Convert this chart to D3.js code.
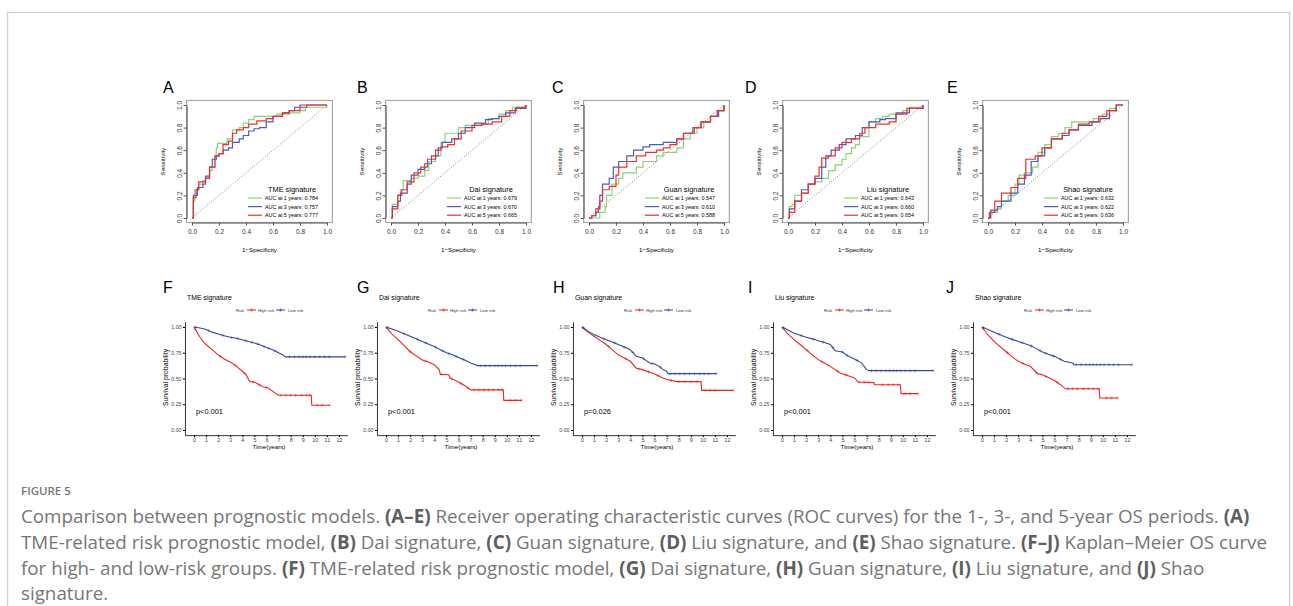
<!DOCTYPE html>
<html>
<head>
<meta charset="utf-8">
<script src="https://cdn.jsdelivr.net/npm/d3@7"></script>
<style>
  body { margin: 0; background: #fff; }
  svg { display: block; }
</style>
</head>
<body>
<div id="fig"></div>
<script>
// ---------- ROC data (1 - specificity, sensitivity) ----------
const rocLetters = ["A", "B", "C", "D", "E"];
const rocTitles = ["TME signature", "Dai signature", "Guan signature", "Liu signature", "Shao signature"];
const rocYears = [1, 3, 5];
const rocAuc = [
  [0.784, 0.757, 0.777],
  [0.679, 0.670, 0.665],
  [0.547, 0.610, 0.588],
  [0.643, 0.660, 0.654],
  [0.632, 0.622, 0.636]
];
const rocTicks = [0, 0.2, 0.4, 0.6, 0.8, 1.0];

const rocA1 = [[0,0],[0.01,0.15],[0.02,0.25],[0.05,0.3],[0.08,0.33],[0.1,0.36],[0.13,0.42],[0.15,0.45],[0.17,0.55],[0.18,0.62],[0.19,0.66],[0.24,0.66],[0.26,0.7],[0.3,0.78],[0.35,0.8],[0.38,0.84],[0.42,0.87],[0.46,0.9],[0.6,0.9],[0.63,0.92],[0.72,0.93],[0.78,0.93],[0.8,0.95],[0.84,0.98],[1,1]];
const rocA3 = [[0,0],[0.01,0.2],[0.04,0.27],[0.08,0.3],[0.1,0.37],[0.13,0.45],[0.15,0.52],[0.18,0.55],[0.2,0.57],[0.23,0.6],[0.27,0.62],[0.3,0.67],[0.35,0.7],[0.38,0.73],[0.42,0.77],[0.46,0.79],[0.5,0.8],[0.55,0.85],[0.6,0.9],[0.67,0.93],[0.72,0.95],[0.76,0.98],[0.8,1],[1,1]];
const rocA5 = [[0,0],[0.01,0.18],[0.03,0.25],[0.05,0.32],[0.1,0.35],[0.13,0.45],[0.17,0.55],[0.2,0.57],[0.23,0.65],[0.27,0.68],[0.3,0.75],[0.33,0.78],[0.38,0.8],[0.42,0.83],[0.48,0.86],[0.55,0.88],[0.6,0.9],[0.67,0.93],[0.72,0.95],[0.8,0.98],[0.85,1],[1,1]];

const rocB1 = [[0,0],[0.01,0.12],[0.03,0.12],[0.05,0.2],[0.07,0.25],[0.09,0.33],[0.12,0.33],[0.15,0.35],[0.2,0.37],[0.25,0.42],[0.28,0.5],[0.33,0.55],[0.37,0.67],[0.4,0.75],[0.48,0.75],[0.5,0.8],[0.55,0.82],[0.68,0.83],[0.72,0.88],[0.78,0.88],[0.8,0.92],[0.85,0.95],[0.9,0.98],[0.95,0.98],[1,1]];
const rocB3 = [[0,0],[0.01,0.1],[0.05,0.15],[0.07,0.22],[0.12,0.3],[0.15,0.38],[0.2,0.43],[0.25,0.48],[0.3,0.55],[0.35,0.62],[0.38,0.67],[0.45,0.7],[0.5,0.75],[0.55,0.8],[0.62,0.84],[0.7,0.87],[0.75,0.88],[0.8,0.9],[0.85,0.93],[0.92,0.97],[1,1]];
const rocB5 = [[0,0],[0.01,0.08],[0.05,0.2],[0.08,0.25],[0.12,0.32],[0.17,0.4],[0.22,0.45],[0.27,0.52],[0.33,0.6],[0.37,0.63],[0.42,0.65],[0.47,0.7],[0.52,0.77],[0.6,0.82],[0.67,0.83],[0.75,0.85],[0.82,0.9],[0.88,0.95],[0.93,0.98],[1,1]];

const rocC1 = [[0,0],[0.05,0],[0.08,0.05],[0.12,0.1],[0.13,0.2],[0.17,0.3],[0.22,0.35],[0.25,0.4],[0.3,0.4],[0.35,0.45],[0.4,0.5],[0.45,0.5],[0.5,0.55],[0.55,0.58],[0.6,0.58],[0.65,0.62],[0.68,0.62],[0.7,0.7],[0.75,0.75],[0.8,0.8],[0.85,0.85],[0.9,0.9],[0.95,0.95],[1,1]];
const rocC3 = [[0,0],[0.02,0.02],[0.05,0.05],[0.07,0.1],[0.08,0.2],[0.1,0.3],[0.15,0.35],[0.18,0.45],[0.22,0.5],[0.28,0.55],[0.33,0.6],[0.4,0.63],[0.45,0.65],[0.55,0.67],[0.65,0.7],[0.7,0.75],[0.77,0.8],[0.83,0.85],[0.9,0.9],[0.96,0.95],[1,1]];
const rocC5 = [[0,0],[0.02,0.02],[0.05,0.08],[0.08,0.15],[0.1,0.25],[0.15,0.28],[0.2,0.38],[0.22,0.45],[0.28,0.5],[0.35,0.55],[0.42,0.58],[0.5,0.6],[0.55,0.62],[0.6,0.65],[0.65,0.7],[0.7,0.75],[0.78,0.8],[0.83,0.85],[0.9,0.9],[0.95,0.95],[1,1]];

const rocD1 = [[0,0],[0.01,0.1],[0.03,0.12],[0.05,0.2],[0.1,0.22],[0.15,0.3],[0.2,0.32],[0.25,0.35],[0.3,0.42],[0.35,0.47],[0.4,0.52],[0.43,0.57],[0.47,0.62],[0.5,0.65],[0.53,0.72],[0.6,0.85],[0.65,0.88],[0.7,0.9],[0.75,0.92],[0.85,0.95],[0.9,0.98],[1,1]];
const rocD3 = [[0,0],[0.01,0.08],[0.05,0.15],[0.1,0.25],[0.15,0.3],[0.2,0.35],[0.25,0.45],[0.28,0.55],[0.32,0.6],[0.38,0.65],[0.43,0.7],[0.5,0.73],[0.55,0.8],[0.6,0.85],[0.68,0.87],[0.72,0.88],[0.8,0.93],[0.9,0.97],[1,1]];
const rocD5 = [[0,0],[0.01,0.05],[0.05,0.15],[0.1,0.22],[0.15,0.3],[0.2,0.37],[0.23,0.45],[0.25,0.53],[0.3,0.55],[0.35,0.62],[0.4,0.67],[0.47,0.7],[0.53,0.75],[0.57,0.8],[0.65,0.83],[0.75,0.85],[0.8,0.92],[0.88,0.97],[1,1]];

const rocE1 = [[0,0],[0.02,0.05],[0.07,0.08],[0.1,0.15],[0.15,0.2],[0.2,0.3],[0.23,0.38],[0.27,0.4],[0.33,0.45],[0.37,0.58],[0.42,0.65],[0.47,0.72],[0.52,0.75],[0.57,0.8],[0.62,0.85],[0.72,0.85],[0.78,0.88],[0.85,0.92],[0.9,0.97],[0.95,1],[1,1]];
const rocE3 = [[0,0],[0.02,0.07],[0.07,0.1],[0.1,0.15],[0.17,0.22],[0.22,0.3],[0.27,0.38],[0.32,0.5],[0.37,0.55],[0.42,0.62],[0.47,0.7],[0.55,0.73],[0.6,0.78],[0.67,0.82],[0.77,0.85],[0.83,0.88],[0.9,0.95],[0.95,1],[1,1]];
const rocE5 = [[0,0],[0.01,0.05],[0.05,0.15],[0.1,0.22],[0.17,0.27],[0.22,0.35],[0.28,0.52],[0.35,0.55],[0.4,0.62],[0.47,0.7],[0.55,0.75],[0.6,0.78],[0.67,0.83],[0.75,0.85],[0.82,0.9],[0.88,0.95],[0.95,1],[1,1]];

// ---------- Kaplan-Meier data (years, survival) ----------
const kmLetters = ["F", "G", "H", "I", "J"];
const kmTitles = ["TME signature", "Dai signature", "Guan signature", "Liu signature", "Shao signature"];
const kmPvalues = ["p<0.001", "p<0.001", "p=0.026", "p<0.001", "p<0.001"];
const kmGroups = ["High risk", "Low risk"];
const kmXTicks = [0,1,2,3,4,5,6,7,8,9,10,11,12];
const kmYTicks = [0, 0.25, 0.5, 0.75, 1];

const kmF_high = [[0,1],[0.25,0.95],[0.5,0.9],[0.75,0.86],[1,0.83],[1.5,0.78],[2,0.73],[2.5,0.69],[3,0.66],[3.5,0.62],[4,0.57],[4.3,0.54],[4.6,0.47],[5,0.465],[5.7,0.42],[6.1,0.41],[6.7,0.36],[7,0.337],[9.7,0.337],[9.75,0.24],[11.2,0.24]];
const kmF_low = [[0,1],[0.5,0.99],[1,0.975],[1.5,0.95],[2,0.932],[2.5,0.915],[3,0.9],[3.5,0.89],[4,0.877],[4.5,0.86],[5,0.845],[5.5,0.825],[6,0.8],[6.5,0.78],[7,0.75],[7.3,0.73],[7.6,0.71],[12.5,0.71]];
const kmG_high = [[0,1],[0.5,0.93],[1,0.877],[1.5,0.82],[2,0.76],[2.5,0.72],[3,0.68],[3.5,0.66],[4,0.634],[4.4,0.586],[4.5,0.54],[5.2,0.537],[5.3,0.505],[6,0.466],[6.6,0.424],[7,0.39],[9.7,0.39],[9.75,0.288],[11.2,0.288]];
const kmG_low = [[0,1],[0.5,0.98],[1,0.958],[1.5,0.935],[2,0.91],[2.5,0.885],[3,0.86],[3.5,0.835],[4,0.81],[4.5,0.78],[5,0.75],[5.5,0.73],[6,0.705],[6.5,0.68],[7,0.65],[7.6,0.625],[12.5,0.625]];
const kmH_high = [[0,1],[0.5,0.95],[1,0.91],[1.5,0.87],[2,0.83],[2.5,0.78],[3,0.73],[3.5,0.7],[4,0.667],[4.5,0.6],[5,0.586],[6,0.544],[6.7,0.505],[7,0.49],[7.9,0.47],[9.85,0.47],[9.9,0.385],[12.5,0.385]];
const kmH_low = [[0,1],[0.5,0.96],[1,0.926],[1.5,0.9],[2,0.877],[2.5,0.855],[3,0.83],[3.5,0.805],[4,0.78],[4.5,0.715],[5,0.7],[5.6,0.65],[6,0.64],[6.4,0.618],[6.7,0.586],[7,0.57],[7.1,0.547],[11.1,0.547]];
const kmI_high = [[0,1],[0.5,0.93],[1,0.877],[1.5,0.83],[2,0.78],[2.5,0.73],[3,0.683],[3.5,0.65],[4,0.618],[4.8,0.553],[5,0.547],[6,0.505],[6.3,0.466],[7.6,0.46],[7.65,0.44],[9.8,0.44],[9.85,0.353],[11.25,0.353]];
const kmI_low = [[0,1],[0.5,0.97],[1,0.94],[1.5,0.92],[2,0.9],[2.5,0.885],[3,0.867],[3.5,0.85],[4,0.83],[4.4,0.77],[5,0.757],[5.5,0.715],[6,0.69],[6.6,0.65],[7,0.586],[7.2,0.576],[12.5,0.576]];
const kmJ_high = [[0,1],[0.5,0.92],[1,0.86],[1.5,0.81],[2,0.76],[2.5,0.71],[3,0.667],[3.5,0.64],[4,0.618],[4.6,0.547],[5,0.537],[6,0.48],[6.5,0.44],[6.9,0.4],[9.7,0.4],[9.75,0.31],[11.2,0.31]];
const kmJ_low = [[0,1],[0.5,0.975],[1,0.95],[1.5,0.925],[2,0.9],[2.5,0.88],[3,0.86],[3.5,0.84],[4,0.82],[4.5,0.79],[5,0.757],[5.5,0.735],[6,0.715],[6.8,0.667],[7.5,0.65],[7.6,0.634],[12.4,0.634]];

// censoring times (years)
const kmF_highCens = [0.1,2.2,3.4,4.2,4.9,5.4,6.0,7.2,7.6,8.0,8.4,8.9,9.3,9.6,10.2,10.6,11.2];
const kmF_lowCens = [0.1,1.2,2.4,3.1,3.6,4.3,4.8,5.3,5.8,6.2,6.7,7.9,8.3,8.7,9.0,9.3,9.6,10.0,10.4,10.8,11.2,12.5];
const kmG_highCens = [0.1,2.0,3.3,4.6,5.4,6.2,6.8,7.3,7.7,8.1,8.5,8.9,9.3,9.6,10.3,10.7,11.2];
const kmG_lowCens = [0.1,1.5,2.6,3.3,4.1,4.7,5.2,5.8,6.4,7.8,8.2,8.6,9.0,9.3,9.6,9.9,10.3,10.7,11.1,12.5];
const kmH_highCens = [0.1,2.2,3.6,4.7,5.5,6.3,7.4,8.0,8.5,9.0,9.5,10.2,10.6,11.0,12.5];
const kmH_lowCens = [0.1,1.8,2.7,3.5,4.2,5.1,5.8,6.5,7.3,7.7,8.1,8.5,8.9,9.3,9.7,10.1,10.5,11.1];
const kmI_highCens = [0.1,2.1,3.3,4.6,5.3,6.4,6.8,7.2,8.3,8.8,9.2,9.6,10.2,10.6,11.25];
const kmI_lowCens = [0.1,1.6,2.6,3.4,4.2,5.0,5.4,6.2,7.4,7.8,8.2,8.6,8.9,9.2,9.5,9.8,10.2,10.6,11.0,12.5];
const kmJ_highCens = [0.1,2.1,3.4,4.5,5.3,6.2,7.1,7.5,7.9,8.4,8.8,9.2,9.6,10.3,10.7,11.2];
const kmJ_lowCens = [0.1,1.4,2.5,3.3,4.1,4.8,5.3,5.9,6.5,7.8,8.2,8.6,8.9,9.2,9.5,9.8,10.1,10.5,10.9,11.3,12.4];

// ---------- caption ----------
const captionHead = "FIGURE 5";
const captionLines = [
  "Comparison between prognostic models. **(A–E)** Receiver operating characteristic curves (ROC curves) for the 1-, 3-, and 5-year OS periods. **(A)**",
  "TME-related risk prognostic model, **(B)** Dai signature, **(C)** Guan signature, **(D)** Liu signature, and **(E)** Shao signature. **(F–J)** Kaplan–Meier OS curve",
  "for high- and low-risk groups. **(F)** TME-related risk prognostic model, **(G)** Dai signature, **(H)** Guan signature, **(I)** Liu signature, and **(J)** Shao",
  "signature."
];

const rocCurves = [
  [rocA1, rocA3, rocA5], [rocB1, rocB3, rocB5], [rocC1, rocC3, rocC5],
  [rocD1, rocD3, rocD5], [rocE1, rocE3, rocE5]
];
const kmCurves = [
  [kmF_high, kmF_low], [kmG_high, kmG_low], [kmH_high, kmH_low],
  [kmI_high, kmI_low], [kmJ_high, kmJ_low]
];
const kmCens = [
  [kmF_highCens, kmF_lowCens], [kmG_highCens, kmG_lowCens], [kmH_highCens, kmH_lowCens],
  [kmI_highCens, kmI_lowCens], [kmJ_highCens, kmJ_lowCens]
];

// layout
const W = 1293, H = 606;
const FONT = "'Liberation Sans', Arial, sans-serif";
const rocColors = ["#8ad27c", "#4a5cbc", "#f0302a"];
const kmColors = ["#e8261f", "#34479e"];
const rocX0 = [192, 391, 589, 788, 988];
const rocLetterX = [163, 357, 552, 745, 947];
const kmX0 = [194, 386, 582, 782, 982];
const kmLetterX = [163, 357, 553, 748, 946];

const svg = d3.select("#fig").append("svg")
  .attr("width", W)
  .attr("height", H)
  .style("font-family", FONT);

svg.append("rect")
  .attr("x", 7.5).attr("y", 12.5)
  .attr("width", 1282).attr("height", 640)
  .attr("fill", "none")
  .attr("stroke", "#cfcfcf")
  .attr("stroke-width", 1.3);

// ROC panels
function drawRoc(i) {
  const x0 = rocX0[i];
  const x = d3.scaleLinear().domain([0, 1]).range([x0, x0 + 135]);
  const y = d3.scaleLinear().domain([0, 1]).range([218, 105]);
  const g = svg.append("g");

  g.append("text")
    .attr("x", rocLetterX[i]).attr("y", 93)
    .attr("font-size", 16)
    .text(rocLetters[i]);

  const left = x(-0.04), right = x(1.04), top = y(1.04), bottom = y(-0.04);

  g.append("line")
    .attr("x1", x(0)).attr("y1", y(0))
    .attr("x2", x(1)).attr("y2", y(1))
    .attr("stroke", "#444")
    .attr("stroke-width", 0.8)
    .attr("stroke-dasharray", "0.8,2");

  const line = d3.line()
    .x(d => x(d[0]))
    .y(d => y(d[1]))
    .curve(d3.curveStepAfter);

  rocCurves[i].forEach((c, k) => {
    g.append("path")
      .attr("d", line(c))
      .attr("fill", "none")
      .attr("stroke", rocColors[k])
      .attr("stroke-width", 1.2);
  });

  g.append("rect")
    .attr("x", left).attr("y", top)
    .attr("width", right - left).attr("height", bottom - top)
    .attr("fill", "none")
    .attr("stroke", "#a8a8a8")
    .attr("stroke-width", 1.2);

  const xa = g.append("g")
    .attr("transform", `translate(0,${bottom})`)
    .call(d3.axisBottom(x).tickValues(rocTicks).tickFormat(d3.format(".1f"))
      .tickSize(3).tickSizeOuter(0).tickPadding(4));
  xa.select(".domain").attr("stroke", "#555");
  xa.selectAll("line").attr("stroke", "#555");
  xa.selectAll("text").attr("font-family", FONT).attr("font-size", 6.5).attr("fill", "#333");

  const ya = g.append("g")
    .attr("transform", `translate(${left},0)`)
    .call(d3.axisLeft(y).tickValues(rocTicks).tickFormat(d3.format(".1f"))
      .tickSize(3).tickSizeOuter(0));
  ya.select(".domain").attr("stroke", "#555");
  ya.selectAll("line").attr("stroke", "#555");
  ya.selectAll("text")
    .attr("x", null).attr("dy", null)
    .attr("text-anchor", "middle")
    .attr("transform", "translate(-5,0) rotate(-90)")
    .attr("font-family", FONT).attr("font-size", 6.5).attr("fill", "#333");

  g.append("text")
    .attr("x", x(0.5)).attr("y", 252)
    .attr("text-anchor", "middle")
    .attr("font-size", 6.2)
    .text("1\u2212Specificity");

  g.append("text")
    .attr("transform", `translate(${x0 - 27},${y(0.5)}) rotate(-90)`)
    .attr("text-anchor", "middle")
    .attr("font-size", 6.2)
    .text("Sensitivity");

  // legend
  g.append("text")
    .attr("x", x0 + 100).attr("y", 192)
    .attr("text-anchor", "middle")
    .attr("font-size", 7.4)
    .text(rocTitles[i]);
  rocYears.forEach((yr, k) => {
    const ly = 198 + k * 8.6;
    g.append("line")
      .attr("x1", x0 + 56).attr("x2", x0 + 70)
      .attr("y1", ly).attr("y2", ly)
      .attr("stroke", rocColors[k]).attr("stroke-width", 1.2);
    g.append("text")
      .attr("x", x0 + 73).attr("y", ly + 2)
      .attr("font-size", 5.4)
      .text(`AUC at ${yr} years: ${d3.format(".3f")(rocAuc[i][k])}`);
  });
}

// KM panels
const plus = "M-1.6,0H1.6M0,-1.6V1.6";

function survAt(curve, t) {
  const idx = d3.bisector(d => d[0]).right(curve, t);
  if (idx <= 0) return curve[0][1];
  if (idx >= curve.length) return curve[curve.length - 1][1];
  const a = curve[idx - 1], b = curve[idx];
  return a[1] + (b[1] - a[1]) * (t - a[0]) / (b[0] - a[0]);
}

function drawKm(i) {
  const x0 = kmX0[i];
  const x = d3.scaleLinear().domain([0, 12]).range([x0, x0 + 145]);
  const y = d3.scaleLinear().domain([0, 1]).range([430, 327]);
  const g = svg.append("g");

  g.append("text")
    .attr("x", kmLetterX[i]).attr("y", 293)
    .attr("font-size", 16)
    .text(kmLetters[i]);

  g.append("text")
    .attr("x", x0 - 7).attr("y", 300)
    .attr("font-size", 6.9)
    .text(kmTitles[i]);

  // legend
  const lg = g.append("g").attr("font-size", 4.2).attr("fill", "#333");
  lg.append("text").attr("x", x0 + 42).attr("y", 311.5).text("Risk");
  [[53, 63], [82, 93]].forEach((p, k) => {
    lg.append("line")
      .attr("x1", x0 + p[0]).attr("x2", x0 + p[0] + 9)
      .attr("y1", 310).attr("y2", 310)
      .attr("stroke", kmColors[k]).attr("stroke-width", 1);
    lg.append("path")
      .attr("d", plus)
      .attr("transform", `translate(${x0 + p[0] + 4.5},310)`)
      .attr("stroke", kmColors[k]).attr("stroke-width", 0.6).attr("fill", "none");
    lg.append("text").attr("x", x0 + p[1] + 1).attr("y", 311.5).text(kmGroups[k]);
  });

  // curves
  const line = d3.line().x(d => x(d[0])).y(d => y(d[1]));
  kmCurves[i].forEach((c, k) => {
    g.append("path")
      .attr("d", line(c))
      .attr("fill", "none")
      .attr("stroke", kmColors[k])
      .attr("stroke-width", 1.1);
    g.selectAll(null)
      .data(kmCens[i][k])
      .join("path")
      .attr("d", plus)
      .attr("transform", t => `translate(${x(t)},${y(survAt(c, t))})`)
      .attr("stroke", kmColors[k])
      .attr("stroke-opacity", 0.75)
      .attr("stroke-width", 0.6)
      .attr("fill", "none");
  });

  // axes
  const xAxisScale = x.copy().domain([-0.75, 12.7]).range([x(-0.75), x(12.7)]);
  const xa = g.append("g")
    .attr("transform", `translate(0,${y(-0.05)})`)
    .call(d3.axisBottom(xAxisScale).tickValues(kmXTicks).tickFormat(d3.format("d"))
      .tickSize(2).tickSizeOuter(0).tickPadding(1.5));
  xa.selectAll("text").attr("font-family", FONT).attr("font-size", 5.4).attr("fill", "#444");
  xa.select(".domain").attr("stroke-width", 0.8);

  const yAxisScale = y.copy().domain([-0.05, 1.05]).range([y(-0.05), y(1.05)]);
  const ya = g.append("g")
    .attr("transform", `translate(${x(-0.75)},0)`)
    .call(d3.axisLeft(yAxisScale).tickValues(kmYTicks).tickFormat(d3.format(".2f"))
      .tickSize(2).tickSizeOuter(0).tickPadding(1.5));
  ya.selectAll("text").attr("font-family", FONT).attr("font-size", 5.2).attr("fill", "#444");
  ya.select(".domain").attr("stroke-width", 0.8);

  g.append("text")
    .attr("x", x0 + 2).attr("y", 414)
    .attr("font-size", 7.4)
    .text(kmPvalues[i]);

  g.append("text")
    .attr("transform", `translate(${x0 - 26},${y(0.5) - 1}) rotate(-90)`)
    .attr("text-anchor", "middle")
    .attr("font-size", 6.8)
    .text("Survival probability");

  g.append("text")
    .attr("x", x0 + 75).attr("y", 449)
    .attr("text-anchor", "middle")
    .attr("font-size", 6.2)
    .text("Time(years)");
}

d3.range(5).forEach(drawRoc);
d3.range(5).forEach(drawKm);

// caption
const CAP = "'Open Sans', 'Noto Sans', sans-serif";
svg.append("text")
  .attr("x", 21).attr("y", 495)
  .attr("font-family", CAP)
  .attr("font-size", 11.5)
  .attr("font-weight", 600)
  .attr("fill", "#777")
  .text(captionHead);

const capG = svg.append("g").attr("font-family", CAP).attr("fill", "#767676");
const capTexts = captionLines.map((ln, k) => {
  const t = capG.append("text")
    .attr("x", 21).attr("y", 523 + k * 25.8)
    .attr("font-size", 16);
  ln.split("**").forEach((seg, j) => {
    t.append("tspan")
      .attr("font-weight", j % 2 ? 700 : 400)
      .attr("fill", j % 2 ? "#5e5e5e" : null)
      .text(seg);
  });
  return t;
});
// fit first line to the measured span of the reference text
const w0 = capTexts[0].node().getComputedTextLength();
const fs = 16 * 1229 / w0;
capTexts.forEach(t => t.attr("font-size", fs));
</script>
</body>
</html>
